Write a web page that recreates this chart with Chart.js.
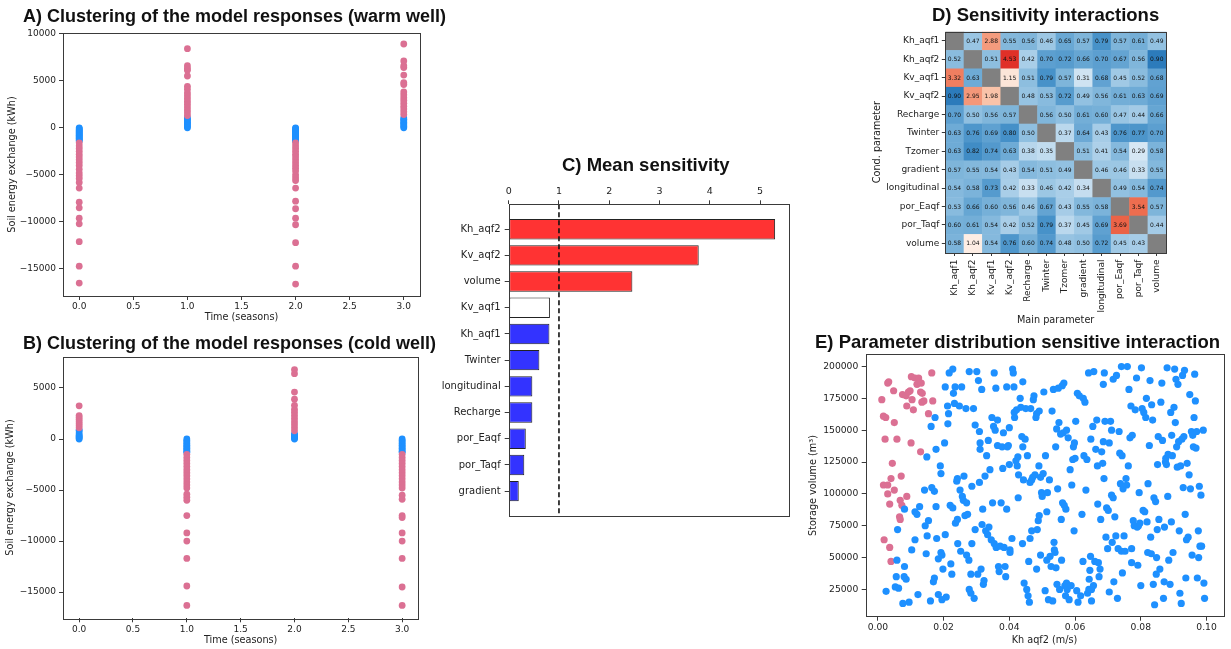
<!DOCTYPE html>
<html>
<head>
<meta charset="utf-8">
<script src="https://cdn.jsdelivr.net/npm/chart.js@4/dist/chart.umd.min.js"></script>
<style>
  html, body { margin: 0; padding: 0; background: #fff; }
  body { position: relative; width: 1231px; height: 649px; overflow: hidden; }
  canvas { position: absolute; }
  .ttl { position: absolute; font: bold 18.5px "Liberation Sans", Arial, sans-serif; line-height: 1; white-space: nowrap; color: #111; }
  .ttl.wide { font-size: 18px; }
</style>
</head>
<body>
<canvas id="cA" width="460" height="325" style="left:0px;top:0px"></canvas>
<canvas id="cB" width="460" height="324" style="left:0px;top:325px"></canvas>
<canvas id="cC" width="370" height="390" style="left:430px;top:140px"></canvas>
<canvas id="cD" width="381" height="330" style="left:850px;top:0px"></canvas>
<canvas id="cE" width="431" height="324" style="left:800px;top:325px"></canvas>

<div class="ttl wide" style="left:23px;top:6.5px">A) Clustering of the model responses (warm well)</div>
<div class="ttl wide" style="left:23px;top:333.5px">B) Clustering of the model responses (cold well)</div>
<div class="ttl" style="left:562px;top:156px">C) Mean sensitivity</div>
<div class="ttl" style="left:932px;top:6px">D) Sensitivity interactions</div>
<div class="ttl" style="left:815px;top:333px">E) Parameter distribution sensitive interaction</div>

<script>
// ---------- A / B: soil energy exchange per season, split by cluster ----------
const seasons = [0, 1, 2, 3];
const seasonTicks = [0, 0.5, 1, 1.5, 2, 2.5, 3];

// warm well: responsive runs (pink) and low-response runs (blue), one list per season
const warmResponsive = [
  [-1600, -1900, -2200, -2500, -2800, -3100, -3400, -3700, -4000, -4400, -4800, -5100, -5400, -5800, -6400, -7900, -8500, -9600, -10200, -12100, -14700, -16500],
  [1300, 1600, 1900, 2200, 2500, 2800, 3100, 3400, 3700, 4100, 4400, 5500, 6100, 6300, 6600, 8400],
  [-1600, -1900, -2200, -2500, -2800, -3100, -3400, -3700, -4000, -4300, -4600, -5000, -5300, -5600, -6400, -7800, -8600, -9600, -10300, -12200, -14700, -16600],
  [1400, 1700, 2000, 2300, 2600, 2900, 3200, 3500, 3800, 4600, 4800, 5600, 6400, 6600, 7100, 8900]
];
const warmQuiet = [
  [0, -100, -200, -300, -400, -500, -600, -700, -800, -900, -1000, -1100, -1200, -1300, -1400],
  [0, 150, 300, 450, 600, 750, 900, 1050],
  [0, -100, -200, -300, -400, -500, -600, -700, -800, -900, -1000, -1100, -1200, -1300, -1400],
  [0, 150, 300, 450, 600, 750, 900, 1050]
];
const warmTicks = [-15000, -10000, -5000, 0, 5000, 10000];

// cold well
const coldResponsive = [
  [1100, 1300, 1500, 1700, 1900, 2100, 2300, 3250],
  [-1500, -1800, -2100, -2400, -2700, -3000, -3300, -3600, -3900, -4200, -4500, -4800, -5400, -5700, -6000, -7500, -9200, -10000, -11700, -14400, -16300],
  [800, 1100, 1400, 1700, 2000, 2300, 2600, 2900, 3300, 3900, 4600, 6400, 6800],
  [-1500, -1800, -2100, -2400, -2700, -3000, -3300, -3600, -3900, -4200, -4500, -4800, -5500, -5900, -7500, -7700, -9200, -10000, -11700, -14500, -16300]
];
const coldQuiet = [
  [0, 100, 200, 300, 400, 600, 800, 900],
  [0, -150, -300, -450, -600, -750, -900, -1050, -1200, -1300],
  [0, 100, 200, 300, 400, 500],
  [0, -150, -300, -450, -600, -750, -900, -1050, -1200, -1300]
];
const coldTicks = [-15000, -10000, -5000, 0, 5000];

// ---------- C: mean sensitivity ----------
const sensParams = ['Kh_aqf2', 'Kv_aqf2', 'volume', 'Kv_aqf1', 'Kh_aqf1', 'Twinter', 'longitudinal', 'Recharge', 'por_Eaqf', 'por_Taqf', 'gradient'];
const meanSensitivity = [5.30, 3.78, 2.46, 0.82, 0.81, 0.61, 0.47, 0.47, 0.34, 0.31, 0.20];
const sensGroup = ['above', 'above', 'above', 'interacting', 'below', 'below', 'below', 'below', 'below', 'below', 'below'];
const sensThreshold = 1;
const sensTicks = [0, 1, 2, 3, 4, 5];

// ---------- D: sensitivity interactions (rows: conditioning, cols: main) ----------
const interParams = ['Kh_aqf1', 'Kh_aqf2', 'Kv_aqf1', 'Kv_aqf2', 'Recharge', 'Twinter', 'Tzomer', 'gradient', 'longitudinal', 'por_Eaqf', 'por_Taqf', 'volume'];
const interMatrix = [
  [null, 0.47, 2.88, 0.55, 0.56, 0.46, 0.65, 0.57, 0.79, 0.57, 0.61, 0.49],
  [0.52, null, 0.51, 4.53, 0.42, 0.70, 0.72, 0.66, 0.70, 0.67, 0.56, 0.90],
  [3.32, 0.63, null, 1.15, 0.51, 0.79, 0.57, 0.31, 0.68, 0.45, 0.52, 0.68],
  [0.90, 2.95, 1.98, null, 0.48, 0.53, 0.72, 0.49, 0.56, 0.61, 0.63, 0.69],
  [0.70, 0.50, 0.56, 0.57, null, 0.56, 0.50, 0.61, 0.60, 0.47, 0.44, 0.66],
  [0.63, 0.76, 0.69, 0.80, 0.50, null, 0.37, 0.64, 0.43, 0.76, 0.77, 0.70],
  [0.63, 0.82, 0.74, 0.63, 0.38, 0.35, null, 0.51, 0.41, 0.54, 0.29, 0.58],
  [0.57, 0.55, 0.54, 0.43, 0.54, 0.51, 0.49, null, 0.46, 0.46, 0.33, 0.55],
  [0.54, 0.58, 0.73, 0.42, 0.33, 0.46, 0.42, 0.34, null, 0.49, 0.54, 0.74],
  [0.53, 0.66, 0.60, 0.56, 0.46, 0.67, 0.43, 0.55, 0.58, null, 3.54, 0.57],
  [0.60, 0.61, 0.54, 0.42, 0.52, 0.79, 0.37, 0.45, 0.69, 3.69, null, 0.44],
  [0.58, 1.04, 0.54, 0.76, 0.60, 0.74, 0.48, 0.50, 0.72, 0.45, 0.43, null]
];

// ---------- E: Kh_aqf2 vs storage volume ----------
const sensitiveRuns = [
  [0.0012,174000],[0.0017,161000],[0.0024,160000],[0.0022,143000],[0.0033,188000],[0.0030,187000],[0.0048,181000],[0.0050,156000],
  [0.0058,143000],[0.0044,124000],[0.0040,112000],[0.0017,107000],[0.0030,107000],[0.0030,100000],[0.0036,92000],[0.0050,103000],
  [0.0071,114000],[0.0068,95000],[0.0073,91000],[0.0066,82000],[0.0068,80000],[0.0088,98000],[0.0019,64000],[0.0036,58000],
  [0.0040,47000],[0.0075,178000],[0.0086,177000],[0.0093,180000],[0.0098,181000],[0.0104,174000],[0.0088,169000],[0.0108,166000],
  [0.0102,192000],[0.0113,191000],[0.0124,191000],[0.0119,186000],[0.0132,187000],[0.0130,180000],[0.0135,179000],[0.0140,173000],
  [0.0134,172000],[0.0154,163000],[0.0164,195000],[0.0167,173000],[0.0101,140000],[0.0130,133000]
];
const otherRuns = [
  [0.0025,23500],[0.0058,48000],[0.006,72000],[0.0056,35000],[0.0053,27000],[0.0063,26000],[0.0076,14000],[0.0081,43000],[0.008,35000],[0.0086,33000],
  [0.0081,88000],[0.0095,15000],[0.0103,56000],[0.0113,86000],[0.0119,84000],[0.0113,64000],[0.0122,21000],[0.0127,90000],[0.0142,103000],[0.0144,75000],
  [0.0149,129000],[0.015,67000],[0.0147,53000],[0.0154,79000],[0.016,16000],[0.0162,153000],[0.0164,105000],[0.0172,102000],[0.0174,160000],[0.0172,34000],
  [0.0169,31000],[0.0177,90000],[0.0177,135000],[0.0179,65000],[0.0184,49000],[0.0184,21000],[0.019,122000],[0.0192,116000],[0.0192,54000],[0.0195,52000],
  [0.0195,17000],[0.0198,41000],[0.0203,140000],[0.0205,68000],[0.0208,19000],
  [0.0205,184000],[0.0212,169000],[0.0213,155000],[0.0217,195000],[0.0215,163000],[0.022,91000],[0.0222,45000],[0.0225,37000],[0.0228,198000],[0.0228,89000],
  [0.023,179000],[0.0235,184000],[0.0233,171000],[0.0236,77000],[0.024,110000],[0.0242,112000],[0.0242,80000],[0.0243,61000],[0.0248,169000],[0.025,103000],
  [0.0252,55000],[0.0255,184000],[0.0257,98000],[0.026,95000],[0.0262,114000],[0.0265,83000],[0.0268,167000],[0.027,93000],[0.027,52000],[0.0273,84000],
  [0.0278,196000],[0.0277,48000],[0.0278,25000],[0.0283,22000],[0.0283,37000],[0.0286,106000],[0.0286,61000],[0.0291,167000],[0.0293,18000],[0.0296,154000],
  [0.0296,72000],[0.0301,196000],[0.0304,37000],[0.0306,189000],[0.0309,109000],[0.0309,149000],[0.0311,140000],[0.0311,135000],[0.0314,41000],[0.0316,182000],
  [0.0317,76000],[0.0319,88000],[0.0321,29000],[0.0323,32000],[0.0326,114000],[0.0328,71000],[0.0331,130000],[0.0334,68000],[0.0336,142000],[0.0338,74000],
  [0.0341,119000],[0.0345,64000],[0.0347,160000],[0.0349,93000],[0.0352,153000],[0.0354,195000],[0.0354,61000],[0.0357,150000],[0.0359,183000],[0.036,58000],
  [0.0364,158000],[0.0364,138000],[0.0367,43000],[0.0369,39000],[0.0372,59000],[0.0375,93000],[0.0378,137000],[0.038,120000],[0.0382,148000],[0.0384,58000],
  [0.0387,43000],[0.0389,35000],[0.0392,184000],[0.0392,88000],[0.0394,137000],[0.0397,138000],[0.04,123000],[0.0402,56000],[0.0402,54000],[0.04,152000],
  [0.0408,65000],[0.041,198000],[0.0412,195000],[0.0414,184000],[0.0415,164000],[0.0416,160000],[0.042,126000],[0.0422,166000],[0.0424,122000],[0.0426,129000],
  [0.0427,97000],[0.0428,115000],[0.0433,175000],[0.0435,168000],[0.0438,145000],[0.044,61000],[0.0441,137000],[0.0441,188000],[0.0443,111000],[0.0445,30000],
  [0.0448,143000],[0.045,167000],[0.0453,25000],[0.0455,130000],[0.0457,20000],[0.0459,47000],[0.0461,15000],[0.0463,109000],[0.0463,65000],[0.0465,167000],
  [0.0468,71000],[0.0468,111000],[0.0471,113000],[0.0473,174000],[0.0475,177000],[0.0478,115000],[0.0481,160000],[0.0483,163000],[0.0483,41000],[0.0485,72000],
  [0.0488,79000],[0.049,122000],[0.0491,165000],[0.0491,83000],[0.0495,52000],[0.0495,113000],[0.0498,101000],[0.05,98000],[0.0503,116000],[0.0505,180000],
  [0.0509,24000],[0.051,130000],[0.0514,86000],[0.0514,48000],[0.0516,101000],[0.0519,17000],[0.0522,111000],[0.0524,51000],[0.0527,43000],[0.053,165000],
  [0.0532,16000],[0.0534,182000],[0.0536,62000],[0.0537,56000],[0.0539,54000],[0.0541,137000],[0.0542,42000],[0.0544,151000],[0.0545,29000],[0.0547,104000],
  [0.0549,183000],[0.0551,156000],[0.0553,25000],[0.0556,147000],[0.0558,80000],[0.0559,48000],[0.0561,185000],[0.0562,93000],[0.0564,148000],[0.0566,187000],
  [0.0567,91000],[0.0569,28000],[0.0571,20000],[0.0572,88000],[0.0574,150000],[0.0574,30000],[0.0576,25000],[0.0579,144000],[0.0582,17000],[0.0585,119000],
  [0.0588,28000],[0.059,107000],[0.0593,127000],[0.0595,137000],[0.0597,71000],[0.0598,140000],[0.06,128000],
  [0.0602,157000],[0.0605,24000],[0.0607,179000],[0.0609,15000],[0.0613,177000],[0.0617,20000],[0.0621,84000],[0.0624,47000],[0.0625,175000],[0.0627,130000],
  [0.063,172000],[0.0633,103000],[0.0636,127000],[0.0638,22000],[0.0641,195000],[0.0642,25000],[0.0643,33000],[0.0645,40000],[0.0647,51000],[0.0648,143000],
  [0.065,25000],[0.065,16000],[0.0654,153000],[0.0656,28000],[0.0657,196000],[0.066,47000],[0.0663,135000],[0.0666,158000],[0.0668,122000],[0.0669,92000],
  [0.0671,46000],[0.0673,35000],[0.0676,41000],[0.0678,80000],[0.0681,133000],[0.0684,124000],[0.0686,186000],[0.0686,141000],[0.0688,112000],[0.0689,195000],
  [0.0691,157000],[0.0694,66000],[0.0696,89000],[0.0699,57000],[0.0701,87000],[0.0704,140000],[0.0704,23000],[0.0708,157000],[0.0711,150000],[0.0711,99000],
  [0.0713,62000],[0.0716,97000],[0.0716,190000],[0.0718,31000],[0.0721,82000],[0.0724,67000],[0.0726,193000],[0.0729,18000],[0.0731,57000],[0.0734,149000],
  [0.0736,132000],[0.0738,108000],[0.0741,200000],[0.0741,55000],[0.0743,130000],[0.0744,38000],[0.0746,104000],[0.0749,67000],[0.0752,55000],[0.0755,112000],
  [0.0757,107000],[0.0759,200000],[0.0762,122000],[0.0764,182000],[0.0767,144000],[0.077,169000],[0.0772,46000],[0.0772,57000],[0.0774,146000],[0.0777,79000],
  [0.078,75000],[0.0783,166000],[0.0787,191000],[0.0789,74000],[0.0791,44000],[0.0793,75000],[0.0795,101000],[0.0797,77000],[0.08,28000],
  [0.0802,199000],[0.0804,167000],[0.0807,87000],[0.0809,164000],[0.0812,86000],[0.0815,160000],[0.0817,175000],[0.0819,78000],[0.0821,54000],[0.0822,108000],
  [0.0826,138000],[0.0828,189000],[0.083,66000],[0.0832,53000],[0.0833,170000],[0.0836,158000],[0.0838,29000],[0.084,97000],[0.0842,13000],[0.0845,94000],
  [0.0847,37000],[0.0848,50000],[0.085,72000],[0.0851,123000],[0.0853,145000],[0.0855,80000],[0.0858,41000],[0.0861,172000],[0.0864,187000],[0.0866,142000],
  [0.0869,18000],[0.0871,31000],[0.0872,74000],[0.0875,125000],[0.0876,128000],[0.0878,123000],[0.088,199000],[0.0882,98000],[0.0883,131000],[0.0885,48000],
  [0.0889,29000],[0.0891,164000],[0.0893,78000],[0.0894,146000],[0.0896,130000],[0.0898,54000],[0.0901,168000],[0.0903,198000],[0.0905,156000],[0.0907,190000],
  [0.0909,137000],[0.0911,121000],[0.0913,186000],[0.0915,141000],[0.0917,71000],[0.0919,22000],[0.0921,122000],[0.0923,14000],[0.0925,143000],[0.0927,193000],
  [0.0929,105000],[0.0931,145000],[0.0933,197000],[0.0935,84000],[0.0937,34000],[0.0939,64000],[0.0941,124000],[0.0944,66000],[0.0947,115000],[0.0949,178000],
  [0.0951,104000],[0.0954,149000],[0.0956,52000],[0.0958,146000],[0.096,137000],[0.0962,160000],[0.0964,194000],[0.0966,173000],[0.0968,136000],[0.097,149000],
  [0.0972,34000],[0.0975,71000],[0.0976,50000],[0.0978,106000],[0.098,59000],[0.0983,99000],[0.0985,59000],[0.099,150000],[0.0992,30000],[0.0994,18000]
];
const khTicks = [0, 0.02, 0.04, 0.06, 0.08, 0.10];
const volumeTicks = [25000, 50000, 75000, 100000, 125000, 150000, 175000, 200000];

// ---------- shared styling ----------
const PINK = '#db7093';
const BLUE = '#1e90ff';
const INK = '#222';
const FONT = '"DejaVu Sans", sans-serif';
const tickFont = size => ({ family: FONT, size });
const labelFont = { family: FONT, size: 9.7 };
const minus = v => (v < 0 ? '\u2212' + Math.abs(v) : String(v));

// matplotlib-style box around the plotting area
const frame = {
  id: 'frame',
  afterDatasetsDraw(chart) {
    const { ctx, chartArea: a } = chart;
    ctx.save();
    ctx.strokeStyle = '#3a3a3a';
    ctx.lineWidth = 1;
    ctx.strokeRect(Math.round(a.left) + 0.5, Math.round(a.top) + 0.5, Math.round(a.right - a.left), Math.round(a.bottom - a.top));
    ctx.restore();
  }
};

const fixTicks = list => scale => { scale.ticks = list.map(v => ({ value: v })); };
const fixW = w => scale => { scale.width = w; };
const fixH = h => scale => { scale.height = h; };
const tickGrid = len => ({ drawOnChartArea: false, drawTicks: true, tickLength: len, color: '#3a3a3a', offset: false });

function seasonPoints(lists) {
  return seasons.flatMap((s, i) => lists[i].map(v => ({ x: s, y: v })));
}

function energyPanel(id, responsive, quiet, yMin, yMax, yTicks, pad, yW, xH) {
  new Chart(document.getElementById(id), {
    type: 'scatter',
    data: {
      datasets: [
        { data: seasonPoints(responsive), backgroundColor: PINK, borderWidth: 0, pointRadius: 3.4 },
        { data: seasonPoints(quiet), backgroundColor: BLUE, borderWidth: 0, pointRadius: 3.4 }
      ]
    },
    options: {
      responsive: false, animation: false, events: [],
      layout: { padding: pad },
      plugins: { legend: { display: false }, tooltip: { enabled: false } },
      scales: {
        x: {
          type: 'linear', min: -0.15, max: 3.15,
          afterBuildTicks: fixTicks(seasonTicks), afterFit: fixH(xH),
          ticks: { font: tickFont(9), color: INK, padding: 1.5, maxRotation: 0, callback: v => v.toFixed(1) },
          grid: tickGrid(4), border: { display: false },
          title: { display: true, text: 'Time (seasons)', font: labelFont, color: INK, padding: 0 }
        },
        y: {
          type: 'linear', min: yMin, max: yMax,
          afterBuildTicks: fixTicks(yTicks), afterFit: fixW(yW),
          ticks: { font: tickFont(9), color: INK, padding: 3, callback: minus },
          grid: tickGrid(4), border: { display: false },
          title: { display: true, text: 'Soil energy exchange (kWh)', font: labelFont, color: INK, padding: 0 }
        }
      }
    },
    plugins: [frame]
  });
}

energyPanel('cA', warmResponsive, warmQuiet, -17870, 10070, warmTicks,
  { left: 6.9, right: 40, top: 33, bottom: 1.5 }, 56.1, 27.5);
energyPanel('cB', coldResponsive, coldQuiet, -17565, 8065, coldTicks,
  { left: 4.9, right: 41.7, top: 31.7, bottom: 3.2 }, 58.1, 27.5);

// ---------- C ----------
const groupFill = { above: '#ff3333', interacting: '#ffffff', below: '#3333ff' };
const thresholdLine = {
  id: 'thresholdLine',
  afterDatasetsDraw(chart) {
    const { ctx, chartArea: a, scales: { x } } = chart;
    const px = x.getPixelForValue(sensThreshold);
    ctx.save();
    ctx.strokeStyle = '#111';
    ctx.lineWidth = 1.6;
    ctx.setLineDash([5, 3]);
    ctx.beginPath();
    ctx.moveTo(px, a.top);
    ctx.lineTo(px, a.bottom);
    ctx.stroke();
    ctx.restore();
  }
};
new Chart(document.getElementById('cC'), {
  type: 'bar',
  data: {
    datasets: [{
      data: sensParams.map((p, i) => ({ x: meanSensitivity[i], y: i })),
      backgroundColor: sensGroup.map(g => groupFill[g]),
      borderColor: '#222', borderWidth: 1, borderSkipped: false,
      barPercentage: 0.78, categoryPercentage: 1
    }]
  },
  options: {
    indexAxis: 'y', responsive: false, animation: false, events: [],
    layout: { padding: { left: 8.7, right: 11.3, top: 40, bottom: 14 } },
    plugins: { legend: { display: false }, tooltip: { enabled: false } },
    scales: {
      x: {
        type: 'linear', position: 'top', min: 0, max: 5.57, offset: false,
        afterBuildTicks: fixTicks(sensTicks), afterFit: fixH(24.3),
        ticks: { font: tickFont(9.5), color: INK, padding: 3, maxRotation: 0 },
        grid: tickGrid(4), border: { display: false }
      },
      y: {
        type: 'linear', min: -0.95, max: 10.95, reverse: true, offset: false,
        afterBuildTicks: fixTicks(sensParams.map((p, i) => i)), afterFit: fixW(70),
        ticks: { font: tickFont(10), color: INK, padding: 4, autoSkip: false, callback: v => sensParams[v] },
        grid: tickGrid(4), border: { display: false }
      }
    }
  },
  plugins: [thresholdLine, frame]
});

// ---------- D ----------
const blueStops = [[0.29, [214, 231, 244]], [0.40, [176, 210, 234]], [0.50, [143, 191, 224]], [0.60, [118, 176, 216]],
                   [0.70, [92, 159, 208]], [0.80, [69, 144, 200]], [0.90, [44, 123, 187]]];
const redStops = [[1.00, [254, 240, 232]], [1.15, [252, 229, 216]], [2.00, [249, 194, 168]], [2.90, [244, 154, 124]],
                  [3.30, [240, 128, 98]], [3.60, [236, 104, 74]], [4.53, [224, 48, 40]]];
function rampColor(stops, v) {
  if (v <= stops[0][0]) return 'rgb(' + stops[0][1].join(',') + ')';
  for (let i = 1; i < stops.length; i++) {
    if (v <= stops[i][0]) {
      const t = (v - stops[i - 1][0]) / (stops[i][0] - stops[i - 1][0]);
      const c = stops[i - 1][1].map((a, k) => Math.round(a + (stops[i][1][k] - a) * t));
      return 'rgb(' + c.join(',') + ')';
    }
  }
  return 'rgb(' + stops[stops.length - 1][1].join(',') + ')';
}
const cellColor = v => (v == null ? '#808080' : v < 1 ? rampColor(blueStops, v) : rampColor(redStops, v));

const heatCells = {
  id: 'heatCells',
  beforeDatasetsDraw(chart) {
    const { ctx, scales: { x, y } } = chart;
    ctx.save();
    ctx.font = '6px ' + FONT;
    ctx.textAlign = 'center';
    ctx.textBaseline = 'middle';
    interMatrix.forEach((row, r) => row.forEach((v, c) => {
      const x0 = x.getPixelForValue(c - 0.5), x1 = x.getPixelForValue(c + 0.5);
      const y0 = y.getPixelForValue(r - 0.5), y1 = y.getPixelForValue(r + 0.5);
      ctx.fillStyle = cellColor(v);
      ctx.fillRect(Math.min(x0, x1), Math.min(y0, y1), Math.abs(x1 - x0) + 0.5, Math.abs(y1 - y0) + 0.5);
      if (v != null) {
        ctx.fillStyle = '#111';
        ctx.fillText(v.toFixed(2), (x0 + x1) / 2, (y0 + y1) / 2 + 0.5);
      }
    }));
    ctx.restore();
  }
};
new Chart(document.getElementById('cD'), {
  type: 'scatter',
  data: {
    datasets: [{
      data: interMatrix.flatMap((row, r) => row.map((v, c) => ({ x: c, y: r }))),
      pointRadius: 0
    }]
  },
  options: {
    responsive: false, animation: false, events: [],
    layout: { padding: { left: 21.2, right: 65, top: 31.7, bottom: 4.2 } },
    plugins: { legend: { display: false }, tooltip: { enabled: false } },
    scales: {
      x: {
        type: 'linear', min: -0.5, max: 11.5,
        afterBuildTicks: fixTicks(interParams.map((p, i) => i)), afterFit: fixH(73.3),
        ticks: { font: tickFont(9), color: INK, padding: 3.5, autoSkip: false, minRotation: 90, maxRotation: 90, callback: v => interParams[v] },
        grid: tickGrid(3.5), border: { display: false },
        title: { display: true, text: 'Main parameter', font: labelFont, color: INK, padding: 0 }
      },
      y: {
        type: 'linear', min: -0.5, max: 11.5, reverse: true,
        afterBuildTicks: fixTicks(interParams.map((p, i) => i)), afterFit: fixW(74.1),
        ticks: { font: tickFont(9), color: INK, padding: 2.5, autoSkip: false, callback: v => interParams[v] },
        grid: tickGrid(3.5), border: { display: false },
        title: { display: true, text: 'Cond. parameter', font: labelFont, color: INK, padding: 0 }
      }
    }
  },
  plugins: [heatCells, frame]
});

// ---------- E ----------
new Chart(document.getElementById('cE'), {
  type: 'scatter',
  data: {
    datasets: [
      { data: otherRuns.map(([x, y]) => ({ x, y })), backgroundColor: BLUE, borderWidth: 0, pointRadius: 3.6 },
      { data: sensitiveRuns.map(([x, y]) => ({ x, y })), backgroundColor: PINK, borderWidth: 0, pointRadius: 3.6 }
    ]
  },
  options: {
    responsive: false, animation: false, events: [],
    layout: { padding: { left: 7.5, right: 7.7, top: 29.3, bottom: 3.2 } },
    plugins: { legend: { display: false }, tooltip: { enabled: false } },
    scales: {
      x: {
        type: 'linear', min: -0.0037, max: 0.1051,
        afterBuildTicks: fixTicks(khTicks), afterFit: fixH(29.1),
        ticks: { font: tickFont(9.2), color: INK, padding: 1.5, maxRotation: 0, callback: v => v.toFixed(2) },
        grid: tickGrid(4), border: { display: false },
        title: { display: true, text: 'Kh aqf2 (m/s)', font: labelFont, color: INK, padding: 0 }
      },
      y: {
        type: 'linear', min: 3600, max: 209600,
        afterBuildTicks: fixTicks(volumeTicks), afterFit: fixW(58.2),
        ticks: { font: tickFont(9.2), color: INK, padding: 3.4, callback: v => String(v) },
        grid: tickGrid(4), border: { display: false },
        title: { display: true, text: 'Storage volume (m\u00b3)', font: labelFont, color: INK, padding: 0 }
      }
    }
  },
  plugins: [frame]
});
</script>
</body>
</html>
